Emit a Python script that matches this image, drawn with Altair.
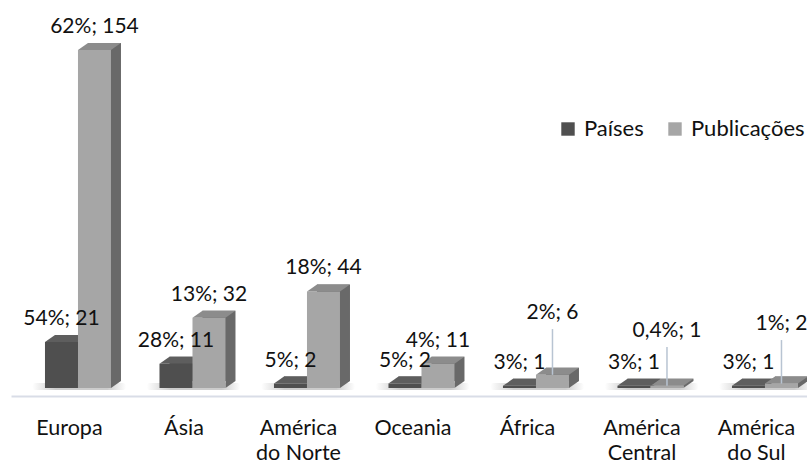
import json
import altair as alt
import pandas as pd

# ---------------- data ----------------
categories = ["Europa", "Ásia", "América do Norte", "Oceania", "África",
              "América Central", "América do Sul"]
axis_lines = [["Europa"], ["Ásia"], ["América", "do Norte"], ["Oceania"],
              ["África"], ["América", "Central"], ["América", "do Sul"]]
series = ["Países", "Publicações"]
paises = [21, 11, 2, 2, 1, 1, 1]
paises_pct = ["54%", "28%", "5%", "5%", "3%", "3%", "3%"]
publicacoes = [154, 32, 44, 11, 6, 1, 2]
publicacoes_pct = ["62%", "13%", "18%", "4%", "2%", "0,4%", "1%"]
# labels that were moved up with a leader line (height of label, value units)
lifted_label = {"África": 31.4, "América Central": 23.2, "América do Sul": 26.4}

# ---------------- style / layout ----------------
STEP = 114.5      # px per category
BAR = 33          # px width of one bar front face
DX, DY = 10, 7    # px depth of the 3d effect
PXU = 2.195       # px per value unit
W, H = 796, 373
XDOM = [-0.585, 6.367]
YDOM = [0, H / PXU]
FONT = "Lato"
FS = 21
TXT = "#111111"
colors = {
    "Países": {"front": "#4f4f4f", "top": "#5e5e5e", "side": "#3c3c3c"},
    "Publicações": {"front": "#a6a6a6", "top": "#8c8c8c", "side": "#696969"},
}

rows = []
bw = BAR / STEP
for i, cat in enumerate(categories):
    for s, vals, pcts in (("Países", paises, paises_pct),
                          ("Publicações", publicacoes, publicacoes_pct)):
        x0 = i - bw if s == "Países" else i
        lifted = (s == "Publicações") and cat in lifted_label
        rows.append({
            "cat": cat, "idx": i, "serie": s, "value": vals[i],
            "label": f"{pcts[i]}; {vals[i]}",
            "x0": x0, "x1": x0 + bw, "xc": x0 + bw / 2, "zero": 0,
            "lifted": lifted,
            "label_y": lifted_label.get(cat, 0) if lifted else None,
            "front": colors[s]["front"], "top": colors[s]["top"],
            "side": colors[s]["side"],
        })
df = pd.DataFrame(rows)

xs = alt.Scale(domain=XDOM, nice=False, zero=False)
ys = alt.Scale(domain=YDOM, nice=False, zero=False)

label_expr = json.dumps(axis_lines, ensure_ascii=False) + "[round(datum.value)]"
xaxis = alt.Axis(values=list(range(len(categories))), labelExpr=label_expr,
                 title=None, grid=False, ticks=False, domain=True,
                 domainColor="#d9dde7", domainWidth=2, offset=8,
                 labelFont=FONT, labelFontSize=21.5, labelColor=TXT,
                 labelPadding=38, labelBaseline="alphabetic",
                 labelLineHeight=25, labelOffset=-9, labelFlush=False,
                 labelOverlap=False, labelBound=False)


def X(field):
    return alt.X(f"{field}:Q", scale=xs, axis=xaxis)


def Y(field):
    return alt.Y(f"{field}:Q", scale=ys, axis=None)


base = alt.Chart(df)

shadow = base.transform_filter(alt.datum.serie == "Países").transform_calculate(
    sx0="datum.idx - 0.40", sx1="datum.idx + 0.42"
).mark_rect(
    yOffset=2, y2Offset=-5, cornerRadius=3,
    color=alt.LinearGradient(
        gradient="linear", x1=0, x2=1, y1=0, y2=0,
        stops=[alt.GradientStop(offset=0, color="#ffffff"),
               alt.GradientStop(offset=0.25, color="#cccccc"),
               alt.GradientStop(offset=0.8, color="#cccccc"),
               alt.GradientStop(offset=1, color="#ffffff")]),
).encode(x=X("sx0"), x2="sx1:Q", y=Y("zero"), y2="zero:Q")

layers = [shadow]
tri_path = f"M0,{-DY} L0,0 L{DX},{-DY} Z"
top_path = f"M0,0 L{BAR},0 L{BAR + DX},{-DY} L{DX},{-DY} Z"
for s in series:
    b = base.transform_filter(alt.datum.serie == s)
    side = b.mark_rect(xOffset=DX, x2Offset=DX, yOffset=-DY, y2Offset=-DY).encode(
        x=X("x0"), x2="x1:Q", y=Y("value"), y2="zero:Q",
        color=alt.Color("side:N", scale=None))
    tri = b.mark_point(shape=tri_path, size=4, filled=True, opacity=1,
                       strokeWidth=0).encode(
        x=X("x1"), y=Y("zero"), color=alt.Color("side:N", scale=None))
    front = b.mark_rect().encode(
        x=X("x0"), x2="x1:Q", y=Y("value"), y2="zero:Q",
        color=alt.Color("serie:N",
                        scale=alt.Scale(domain=series,
                                        range=[colors[k]["front"] for k in series]),
                        legend=alt.Legend(
                            orient="none", legendX=546, legendY=103,
                            direction="horizontal", title=None,
                            symbolType="square", symbolSize=180,
                            symbolStrokeWidth=0, labelFont=FONT,
                            labelFontSize=22, labelColor=TXT,
                            columnPadding=20, labelOffset=5, padding=0)))
    top = b.mark_point(shape=top_path, size=4, filled=True, opacity=1,
                       strokeWidth=0).encode(
        x=X("x0"), y=Y("value"), color=alt.Color("top:N", scale=None))
    layers += [side, tri, front, top]

leader = base.transform_filter(alt.datum.lifted).mark_rule(
    color="#b8c4d2", strokeWidth=1.5, y2Offset=10).encode(
    x=X("xc"), y=Y("value"), y2="label_y:Q")

labels = base.transform_filter(~alt.datum.lifted).mark_text(
    dy=-17, baseline="alphabetic", align="center", font=FONT, fontSize=FS,
    color=TXT).encode(x=X("xc"), y=Y("value"), text="label:N")

labels_lifted = base.transform_filter(alt.datum.lifted).mark_text(
    baseline="alphabetic", align="center", font=FONT, fontSize=FS,
    color=TXT).encode(x=X("xc"), y=Y("label_y"), text="label:N")

layers += [leader, labels, labels_lifted]

chart = alt.layer(*layers).properties(
    width=W, height=H, autosize="none",
    padding={"left": 11, "top": 15, "right": 0, "bottom": 75},
).configure_view(stroke=None)

chart.save("out.html", embed_options={"renderer": "svg", "actions": False})
